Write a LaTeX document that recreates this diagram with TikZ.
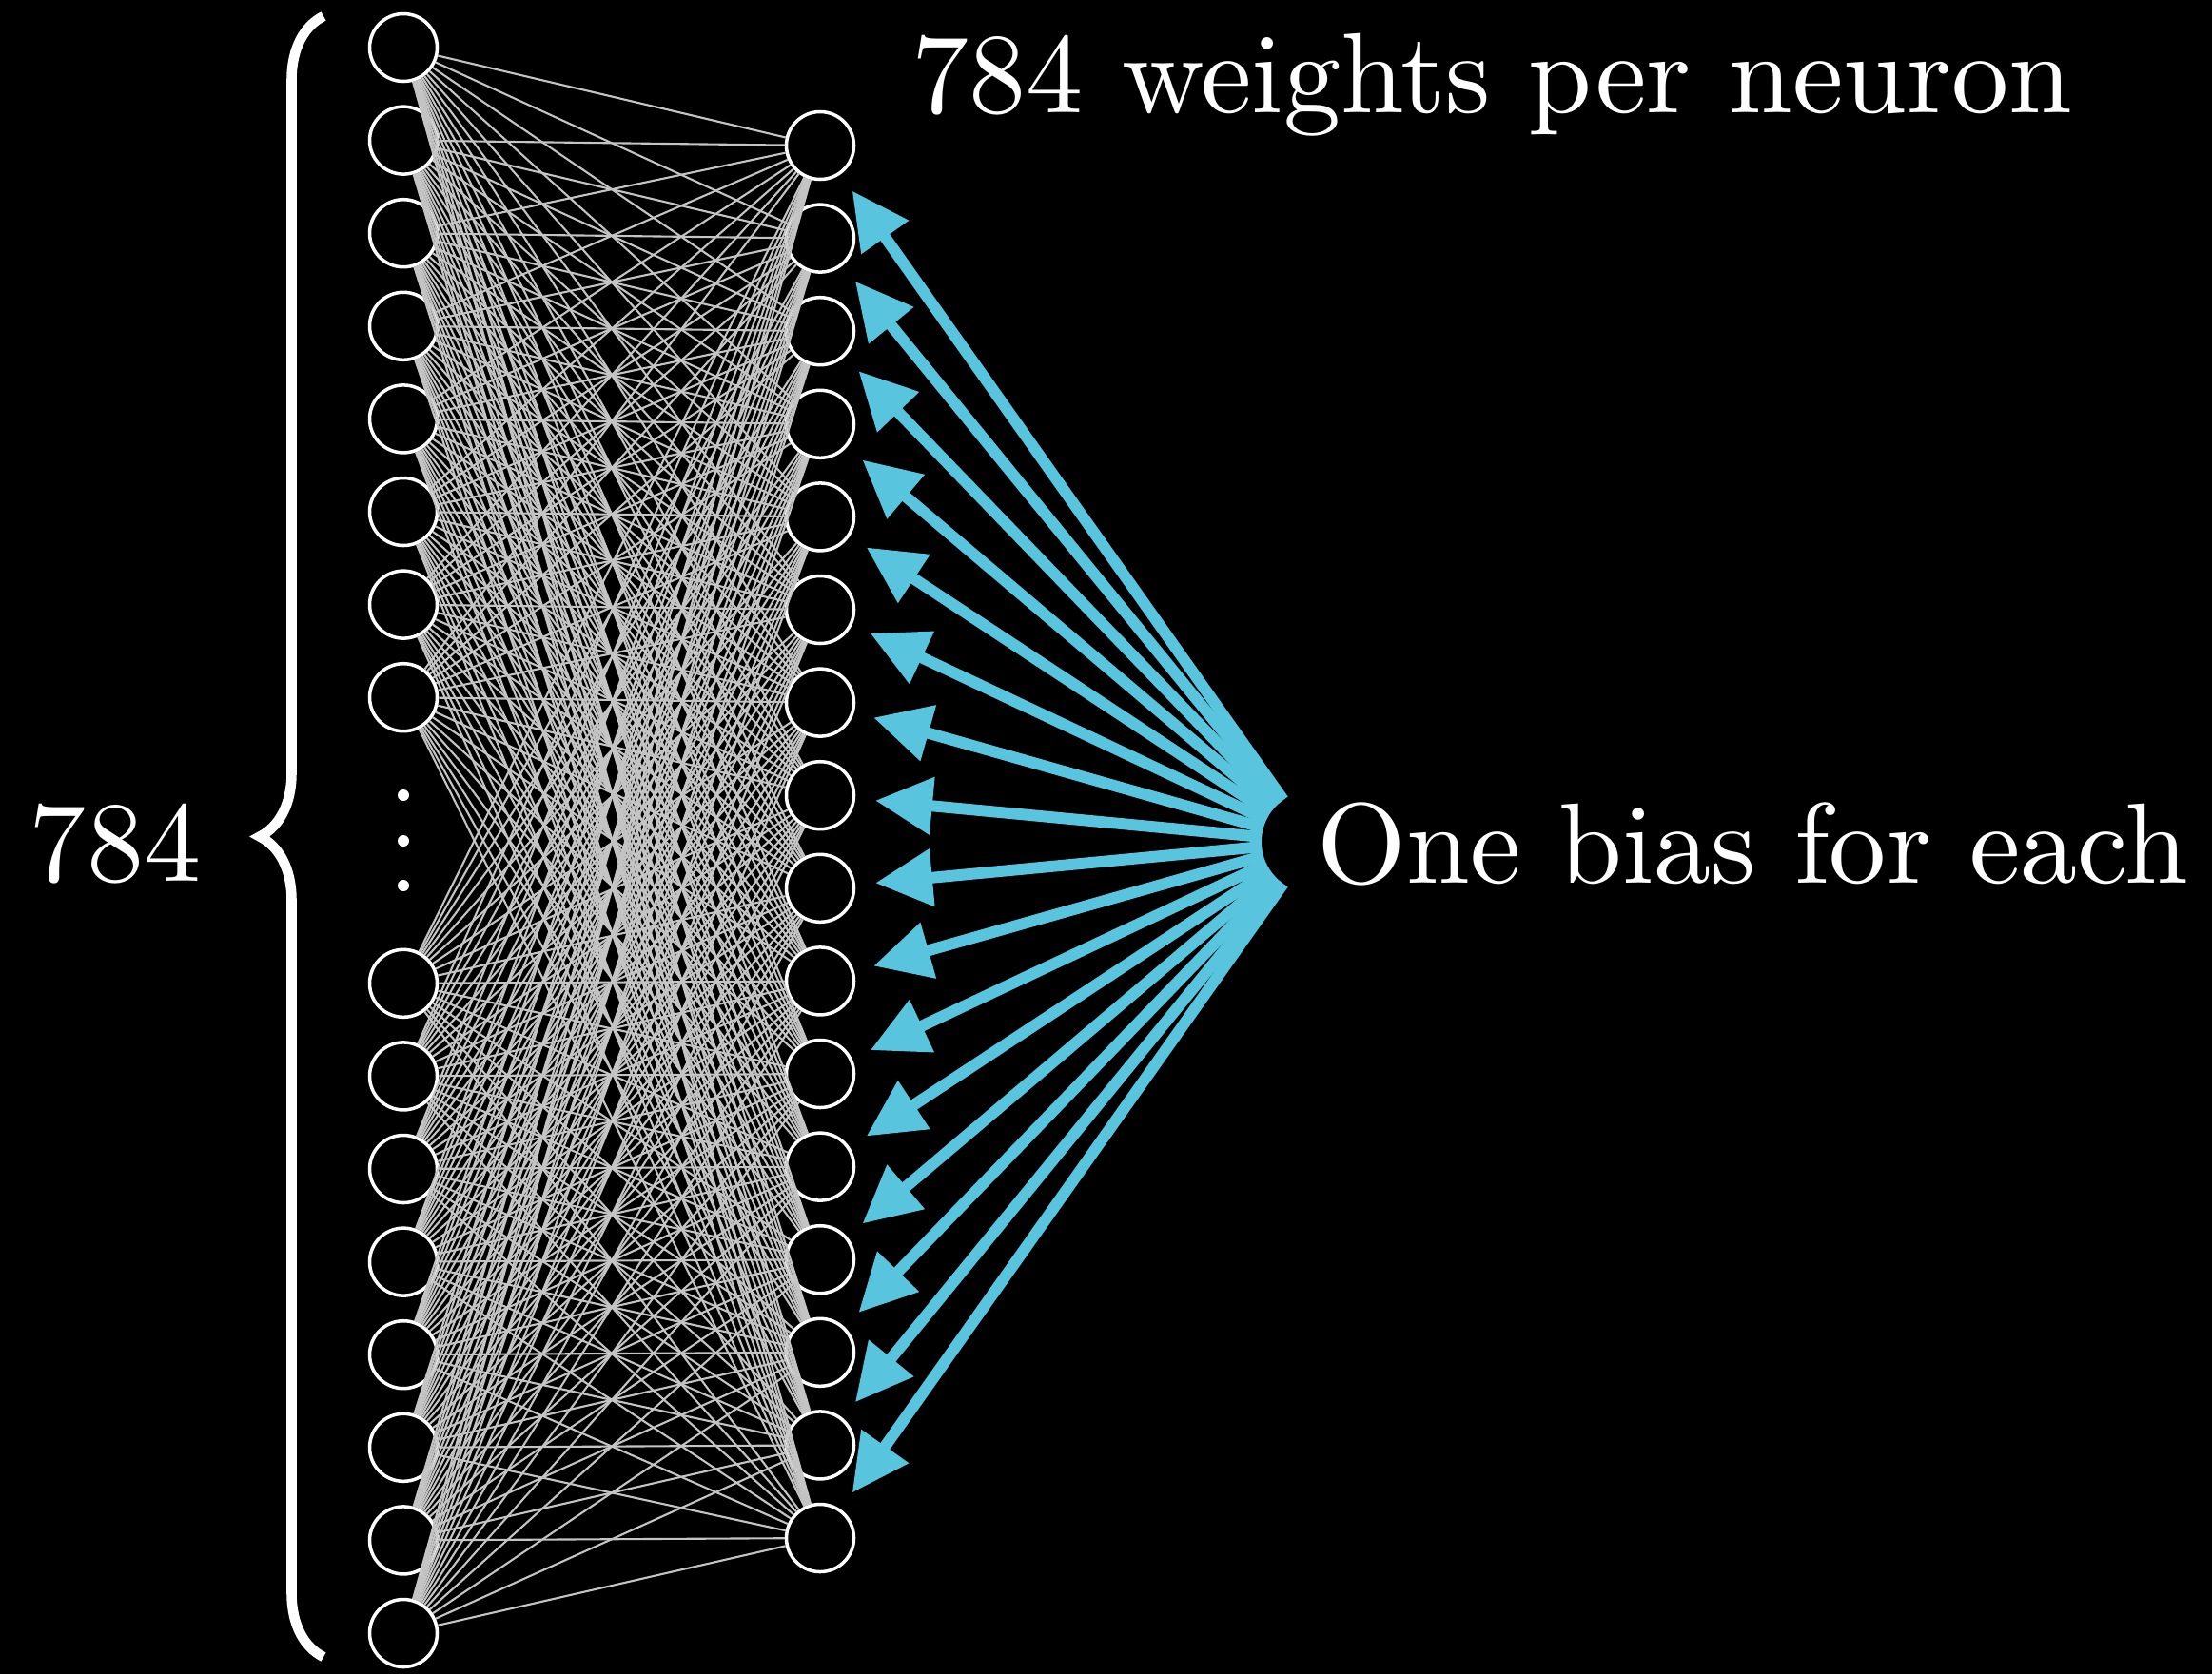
\documentclass[tikz,border=0pt]{standalone}
\usepackage{tikz}
\usepackage{xcolor}
\usetikzlibrary{positioning,arrows.meta,decorations.pathreplacing}
\definecolor{NNBlue}{HTML}{58C4DD}
\definecolor{NNEdge}{HTML}{C4C4C4}
\definecolor{NNBack}{HTML}{000000}
% Latin Modern de 10pt a cualquier tamano
\DeclareFontFamily{TU}{lmrten}{}
\DeclareFontShape{TU}{lmrten}{m}{n}{<-> \UnicodeFontFile{lmroman10-regular}{\UnicodeFontTeXLigatures}}{}
\tikzset{
  nnNeuron/.style={
    circle,
    draw=white,
    fill=NNBack,
    line width=1pt,
    inner sep=0pt,
    minimum size=0.71cm
  },
  nnDot/.style={
    circle,
    fill=white,
    inner sep=0pt,
    minimum size=0.12cm
  },
  nnHub/.style={
    circle,
    inner sep=0pt,
    outer sep=0pt,
    minimum size=1.08cm
  },
  nnLabel/.style={
    font=\fontfamily{lmrten}\fontsize{34.2pt}{40pt}\selectfont,
    text=white,
    inner sep=0pt
  },
  nnEdge/.style={
    draw=NNEdge,
    line width=0.6pt
  },
  nnArrow/.style={
    draw=NNBlue,
    line width=3.4pt,
    shorten >=0.21cm,
    -{Triangle[length=0.6cm,width=0.58cm]}
  },
  nnBrace/.style={
    draw=white,
    line width=3pt,
    decorate,
    decoration={brace,amplitude=0.67cm}
  }
}

\begin{document}
\begin{tikzpicture}
    % Fondo negro
    \path[fill=NNBack, use as bounding box] (0,0) rectangle (23.25,-17.60);

    % Capa de entrada (784)
    \foreach \k in {1,...,8}
      \node (l\k) [nnNeuron] at (4.24,{-0.50-0.976*(\k-1)}) {};
    \foreach \k in {9,...,16}
      \node (l\k) [nnNeuron] at (4.24,{-10.338-0.976*(\k-9)}) {};
    \foreach \k/\y in {1/8.36,2/8.84,3/9.31}
      \node (vdot\k) [nnDot] at (4.24,-\y) {};

    % Capa oculta
    \foreach \k in {1,...,16}
      \node (r\k) [nnNeuron] at (8.62,{-1.53-0.976*(\k-1)}) {};

    % Pesos
    \foreach \i in {1,...,16}
      \foreach \j in {1,...,16}
        \draw [nnEdge] (l\i) -- (r\j);

    % Llave y etiqueta
    \coordinate (braceBot) at (3.40,-17.42);
    \coordinate (braceTop) at (3.40,-0.17);
    \draw [nnBrace] (braceBot) -- (braceTop);
    \node (inCount) [nnLabel, anchor=base east] at (2.12,-9.26) {784};

    \node (wLabel) [nnLabel, anchor=base west] at (9.58,-1.18) {784 weights per neuron};

    % Sesgos
    \node (hub) [nnHub] at (13.80,-8.85) {};
    \node (bLabel) [nnLabel, anchor=base west] at (13.84,-9.28) {One bias for each};
    \foreach \k in {1,...,16}
      \draw [nnArrow] (hub) -- (r\k);
  \end{tikzpicture}
\end{document}
